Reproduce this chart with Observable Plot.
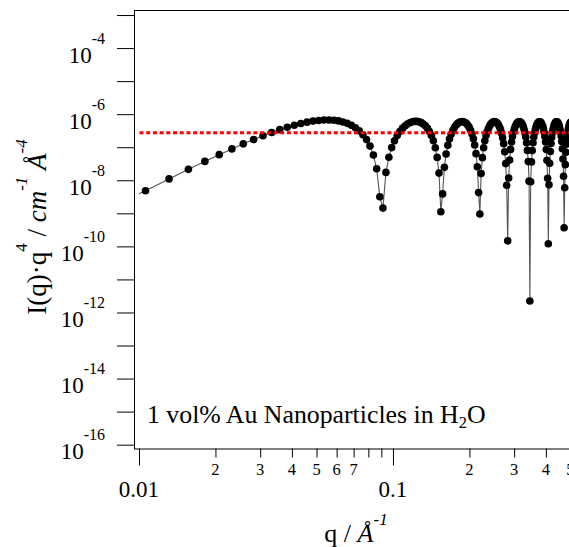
<!DOCTYPE html>
<html><head><meta charset="utf-8">
<script src="https://cdn.jsdelivr.net/npm/d3@7"></script>
<script src="https://cdn.jsdelivr.net/npm/@observablehq/plot@0.6"></script>
<style>
html,body{margin:0;padding:0;overflow:hidden;background:#fff;}
#chart{width:569px;height:547px;overflow:hidden;position:relative;}
#chart svg{max-width:none !important;}
</style></head><body><div id="chart"></div>
<script>
// q values (1/Å) of the measured points
const qValues = [
0.01056,0.01307,0.01558,0.01809,0.02060,0.02311,0.02562,0.02813,0.03064,0.03315,
0.03566,0.03817,0.04068,0.04319,0.04570,0.04821,0.05072,0.05323,0.05574,0.05825,
0.06076,0.06327,0.06578,0.06829,0.07080,0.07331,0.07582,0.07833,0.08084,0.08335,
0.08586,0.08837,0.09088,0.09339,0.09590,0.09841,0.10092,0.10343,0.10594,0.10845,
0.11096,0.11347,0.11598,0.11849,0.12100,0.12351,0.12602,0.12853,0.13104,0.13355,
0.13606,0.13857,0.14108,0.14359,0.14610,0.14861,0.15112,0.15363,0.15614,0.15865,
0.16116,0.16367,0.16618,0.16869,0.17120,0.17371,0.17622,0.17873,0.18124,0.18375,
0.18626,0.18877,0.19128,0.19379,0.19630,0.19881,0.20132,0.20383,0.20634,0.20885,
0.21136,0.21387,0.21638,0.21889,0.22140,0.22391,0.22642,0.22893,0.23144,0.23395,
0.23646,0.23897,0.24148,0.24399,0.24650,0.24901,0.25152,0.25403,0.25654,0.25905,
0.26156,0.26407,0.26658,0.26909,0.27160,0.27411,0.27662,0.27913,0.28164,0.28415,
0.28666,0.28917,0.29168,0.29419,0.29670,0.29921,0.30172,0.30423,0.30674,0.30925,
0.31176,0.31427,0.31678,0.31929,0.32180,0.32431,0.32682,0.32933,0.33184,0.33435,
0.33686,0.33937,0.34188,0.34439,0.34690,0.34941,0.35192,0.35443,0.35694,0.35945,
0.36196,0.36447,0.36698,0.36949,0.37200,0.37451,0.37702,0.37953,0.38204,0.38455,
0.38706,0.38957,0.39208,0.39459,0.39710,0.39961,0.40212,0.40463,0.40714,0.40965,
0.41216,0.41467,0.41718,0.41969,0.42220,0.42471,0.42722,0.42973,0.43224,0.43475,
0.43726,0.43977,0.44228,0.44479,0.44730,0.44981,0.45232,0.45483,0.45734,0.45985,
0.46236,0.46487,0.46738,0.46989,0.47240,0.47491,0.47742,0.47993,0.48244,0.48495,
0.48746,0.48997,0.49248,0.49499,0.49750,0.50001];
// I(q)·q^4 values (cm^-1 Å^-4)
const iq4Values = [
5.00e-9,1.14e-8,2.22e-8,3.86e-8,6.17e-8,9.23e-8,1.31e-7,1.77e-7,2.30e-7,2.89e-7,
3.53e-7,4.17e-7,4.81e-7,5.41e-7,5.95e-7,6.39e-7,6.70e-7,6.88e-7,6.91e-7,6.77e-7,
6.48e-7,6.03e-7,5.46e-7,4.78e-7,4.04e-7,3.26e-7,2.48e-7,1.76e-7,1.12e-7,6.00e-8,
2.31e-8,3.27e-9,1.49e-9,1.79e-8,5.16e-8,1.01e-7,1.62e-7,2.33e-7,3.08e-7,3.84e-7,
4.55e-7,5.19e-7,5.70e-7,6.07e-7,6.26e-7,6.26e-7,6.08e-7,5.73e-7,5.22e-7,4.59e-7,
3.87e-7,3.10e-7,2.34e-7,1.63e-7,1.00e-7,5.09e-8,1.71e-8,1.15e-9,4.01e-9,2.55e-8,
6.43e-8,1.18e-7,1.84e-7,2.57e-7,3.33e-7,4.08e-7,4.77e-7,5.36e-7,5.81e-7,6.09e-7,
6.19e-7,6.10e-7,5.83e-7,5.39e-7,4.81e-7,4.12e-7,3.37e-7,2.60e-7,1.87e-7,1.21e-7,
6.61e-8,2.65e-8,4.39e-9,9.89e-10,1.65e-8,5.01e-8,9.96e-8,1.62e-7,2.33e-7,3.09e-7,
3.85e-7,4.56e-7,5.19e-7,5.67e-7,6.00e-7,6.15e-7,6.11e-7,5.88e-7,5.48e-7,4.93e-7,
4.26e-7,3.52e-7,2.76e-7,2.01e-7,1.33e-7,7.59e-8,3.31e-8,7.30e-9,1.52e-10,1.21e-8,
4.23e-8,8.91e-8,1.49e-7,2.19e-7,2.95e-7,3.71e-7,4.44e-7,5.07e-7,5.59e-7,5.95e-7,
6.13e-7,6.12e-7,5.92e-7,5.54e-7,5.01e-7,4.36e-7,3.63e-7,2.86e-7,2.11e-7,1.42e-7,
8.30e-8,3.80e-8,9.75e-9,2.3e-12,9.37e-9,3.73e-8,8.20e-8,1.41e-7,2.10e-7,2.85e-7,
3.61e-7,4.34e-7,5.00e-7,5.53e-7,5.91e-7,6.11e-7,6.12e-7,5.94e-7,5.58e-7,5.07e-7,
4.43e-7,3.71e-7,2.95e-7,2.19e-7,1.49e-7,8.86e-8,4.20e-8,1.19e-8,1.25e-10,7.52e-9,
3.37e-8,7.69e-8,1.34e-7,2.03e-7,2.77e-7,3.54e-7,4.27e-7,4.93e-7,5.48e-7,5.87e-7,
6.09e-7,6.12e-7,5.96e-7,5.62e-7,5.12e-7,4.49e-7,3.77e-7,3.01e-7,2.25e-7,1.55e-7,
9.33e-8,4.54e-8,1.37e-8,3.80e-10,6.16e-9,3.08e-8,7.27e-8,1.29e-7,1.97e-7,2.71e-7,
3.47e-7,4.21e-7,4.88e-7,5.44e-7,5.84e-7,6.08e-7];
// thin connecting line starts at the left axis tick
const lineStartQ = [0.01];
const lineStartI = [4.1e-9];
// red dotted Porod level
const porodQ = [0.01, 0.55];
const porodI = [2.85e-7, 2.85e-7];
// axes
const yTickValues = [1e-3,1e-4,1e-5,1e-6,1e-7,1e-8,1e-9,1e-10,1e-11,1e-12,1e-13,1e-14,1e-15,1e-16];
const yLabelExponents = [-4,-6,-8,-10,-12,-14,-16];
const xMajorTicks = [0.01, 0.1];
const xMajorLabels = ["0.01", "0.1"];
const xMinorTicks = [0.02,0.03,0.04,0.05,0.06,0.07,0.08,0.09,0.2,0.3,0.4,0.5];
const xMinorLabels = ["2","3","4","5","6","7","","","2","3","4","5"];
const xDomain = [0.009557, 0.55];
const yDomain = [7.66e-17, 1.42e-3];
const legendMain = "1 vol% Au Nanoparticles in H";
const legendSub = "2";
const legendEnd = "O";

const points = qValues.map((q, i) => ({q, v: iq4Values[i]}));
const lineData = lineStartQ.map((q, i) => ({q, v: lineStartI[i]})).concat(points);
const porodData = porodQ.map((q, i) => ({q, v: porodI[i]}));

const SERIF = "'Liberation Serif','Times New Roman',serif";
const plot = Plot.plot({
  width: 581, height: 547,
  marginLeft: 134, marginRight: 0, marginTop: 10, marginBottom: 98.5,
  x: {type: "log", domain: xDomain},
  y: {type: "log", domain: yDomain},
  style: {background: "#fff", fontFamily: SERIF, color: "#000", maxWidth: "none"},
  marks: [
    Plot.frame({stroke: "#000"}),
    Plot.axisY({ticks: yTickValues, tickSize: 17, tickFormat: () => "", label: null}),
    Plot.axisX({ticks: xMajorTicks, tickSize: 17, tickFormat: () => "", label: null}),
    Plot.axisX({ticks: xMinorTicks, tickSize: 9, tickFormat: () => "", label: null}),
    Plot.line(lineData, {x: "q", y: "v", stroke: "#555", strokeWidth: 1.1}),
    Plot.dot(points, {x: "q", y: "v", r: 3.8, fill: "#000", stroke: "none"}),
    Plot.line(porodData, {x: "q", y: "v", stroke: "#ff0000", strokeWidth: 3,
      strokeDasharray: "4,2.7", strokeLinecap: "butt"})
  ]
});
plot.style.maxWidth = "none";
document.getElementById("chart").appendChild(plot);

const svg = d3.select(plot);
const sx = plot.scale("x"), sy = plot.scale("y");
const g = svg.append("g").attr("font-family", SERIF).attr("fill", "#000").attr("text-anchor", "start");

// y tick labels 10^n
yLabelExponents.forEach(e => {
  const y = sy.apply(Math.pow(10, e));
  const t = g.append("text").attr("x", 105).attr("y", y + 14.5)
    .attr("text-anchor", "end").attr("font-size", 23);
  t.append("tspan").text("10");
  t.append("tspan").attr("font-size", 16).attr("dy", -19).text(String(e));
});
// x labels
xMajorTicks.forEach((v, i) => {
  g.append("text").attr("x", sx.apply(v)).attr("y", 497)
    .attr("text-anchor", "middle").attr("font-size", 23).text(xMajorLabels[i]);
});
xMinorTicks.forEach((v, i) => {
  if (!xMinorLabels[i]) return;
  g.append("text").attr("x", sx.apply(v)).attr("y", 474.5)
    .attr("text-anchor", "middle").attr("font-size", 16.5).text(xMinorLabels[i]);
});
// legend text
const lg = g.append("text").attr("x", 147).attr("y", 423).attr("text-anchor", "start").attr("font-size", 25.8);
lg.append("tspan").text(legendMain);
lg.append("tspan").attr("font-size", 16.5).attr("dy", 5).text(legendSub);
lg.append("tspan").attr("dy", -5).text(legendEnd);
// x title
const xt = g.append("text").attr("x", 356).attr("y", 542).attr("text-anchor", "middle").attr("font-size", 26);
xt.append("tspan").text("q / ");
xt.append("tspan").attr("font-style", "italic").text("Å");
xt.append("tspan").attr("font-style", "italic").attr("font-size", 17).attr("dy", -17).text("-1");
// y title
const yt = g.append("text").attr("transform", "translate(46,227) rotate(-90)")
  .attr("text-anchor", "middle").attr("font-size", 27);
yt.append("tspan").text("I(q)·q");
yt.append("tspan").attr("font-size", 17).attr("dy", -19).text("4");
yt.append("tspan").attr("dy", 19).text(" / ");
yt.append("tspan").attr("font-style", "italic").text("cm");
yt.append("tspan").attr("font-style", "italic").attr("font-size", 17).attr("dy", -19).text("-1");
yt.append("tspan").attr("dy", 19).text(" ");
yt.append("tspan").attr("font-style", "italic").text("Å");
yt.append("tspan").attr("font-style", "italic").attr("font-size", 17).attr("dy", -19).text("-4");
</script>
</body></html>
